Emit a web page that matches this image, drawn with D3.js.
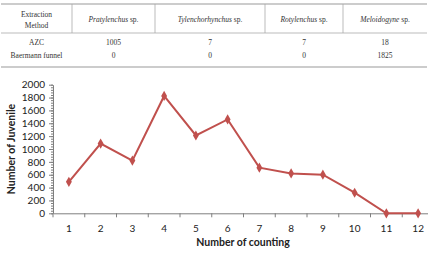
<!DOCTYPE html>
<html>
<head>
<meta charset="utf-8">
<script src="https://cdn.jsdelivr.net/npm/d3@7"></script>
<style>
  body { margin: 0; background: #fff; }
  svg { display: block; }
</style>
</head>
<body>
<div id="chart"></div>
<script>
// table data
const tableHeader = ["Pratylenchus", "Tylenchorhynchus", "Rotylenchus", "Meloidogyne"];
const tableRows = ["AZC", "Baermann funnel"];
const azcValues = [1005, 7, 7, 18];
const baermannValues = [0, 0, 0, 1825];

// line chart data
const counting = ["1", "2", "3", "4", "5", "6", "7", "8", "9", "10", "11", "12"];
const juveniles = [490, 1085, 820, 1825, 1210, 1460, 710, 620, 600, 320, 0, 0];
const yTicks = [0, 200, 400, 600, 800, 1000, 1200, 1400, 1600, 1800, 2000];

const width = 428, height = 253;

const svg = d3.select("#chart").append("svg")
    .attr("width", width)
    .attr("height", height);

// ---- table ----
const tbl = svg.append("g").style("font-family", "'Liberation Serif', serif")
    .attr("font-size", 7.5).attr("fill", "#333");

const colEdges = [1, 72, 155, 265, 343, 427];
const colCenter = d3.range(5).map(i => (colEdges[i] + colEdges[i + 1]) / 2);

tbl.append("line").attr("x1", 1).attr("x2", 427).attr("y1", 4).attr("y2", 4)
    .attr("stroke", "#999").attr("stroke-width", 1.2);
tbl.append("line").attr("x1", 1).attr("x2", 427).attr("y1", 33).attr("y2", 33)
    .attr("stroke", "#aaa").attr("stroke-width", 0.8);
tbl.append("line").attr("x1", 1).attr("x2", 427).attr("y1", 67).attr("y2", 67)
    .attr("stroke", "#999").attr("stroke-width", 1.2);
tbl.selectAll("line.sep")
    .data(colEdges.slice(1, 5))
    .join("line")
    .attr("class", "sep")
    .attr("x1", d => d).attr("x2", d => d)
    .attr("y1", 4).attr("y2", 33)
    .attr("stroke", "#aaa").attr("stroke-width", 0.8);

tbl.append("text").attr("x", colCenter[0]).attr("y", 17).attr("text-anchor", "middle").text("Extraction");
tbl.append("text").attr("x", colCenter[0]).attr("y", 28).attr("text-anchor", "middle").text("Method");

tableHeader.forEach((name, i) => {
    const t = tbl.append("text").attr("x", colCenter[i + 1]).attr("y", 22).attr("text-anchor", "middle");
    t.append("tspan").attr("font-style", "italic").text(name);
    t.append("tspan").text(" sp.");
});

[azcValues, baermannValues].forEach((vals, r) => {
    const y = r === 0 ? 45 : 58;
    tbl.append("text").attr("x", colCenter[0]).attr("y", y).attr("text-anchor", "middle").text(tableRows[r]);
    vals.forEach((v, i) => {
        tbl.append("text").attr("x", colCenter[i + 1]).attr("y", y).attr("text-anchor", "middle").text(v);
    });
});

// ---- line chart ----
const x = d3.scaleBand().domain(counting).range([53, 434]);
const y = d3.scaleLinear().domain([0, 2000]).range([213.3, 84.7]);

const axisColor = "#7f7f7f";
const sans = "Lato, 'Open Sans', sans-serif";
const chart = svg.append("g").style("font-family", sans);

// minor ticks
chart.append("g")
    .attr("transform", "translate(53,0)")
    .call(d3.axisLeft(y).tickValues(d3.range(0, 2001, 40)).tickSize(2).tickFormat(""))
    .call(g => g.select(".domain").remove())
    .call(g => g.selectAll("line").attr("stroke", axisColor));

const yAxis = chart.append("g")
    .attr("transform", "translate(53,0)")
    .call(d3.axisLeft(y).tickValues(yTicks).tickFormat(d3.format("d")).tickSize(4).tickPadding(4).tickSizeOuter(0));
yAxis.select(".domain").attr("stroke", axisColor);
yAxis.selectAll("line").attr("stroke", axisColor);
yAxis.selectAll("text").attr("font-size", 10).attr("fill", "#222").style("font-family", sans);

const xAxis = chart.append("g")
    .attr("transform", `translate(0,${y(0)})`)
    .call(d3.axisBottom(x).tickSize(0).tickPadding(12).tickSizeOuter(0));
xAxis.select(".domain").attr("stroke", axisColor);
xAxis.selectAll("text").attr("font-size", 10).attr("fill", "#222").style("font-family", sans);

chart.append("g")
    .selectAll("line")
    .data(counting)
    .join("line")
    .attr("x1", d => x(d)).attr("x2", d => x(d))
    .attr("y1", y(0)).attr("y2", y(0) + 4)
    .attr("stroke", axisColor);

chart.append("text")
    .attr("x", 243).attr("y", 246)
    .attr("text-anchor", "middle")
    .attr("font-size", 10.5).attr("font-weight", "bold").attr("fill", "#222")
    .text("Number of counting");

chart.append("text")
    .attr("transform", "translate(15,149) rotate(-90)")
    .attr("text-anchor", "middle")
    .attr("font-size", 10.5).attr("font-weight", "bold").attr("fill", "#222")
    .text("Number of Juvenile");

const pts = counting.map((c, i) => ({ c, v: juveniles[i] }));
const line = d3.line()
    .x(d => x(d.c) + x.bandwidth() / 2)
    .y(d => y(d.v));

chart.append("path")
    .datum(pts)
    .attr("d", line)
    .attr("fill", "none")
    .attr("stroke", "#c0504d")
    .attr("stroke-width", 2);

chart.append("g")
    .selectAll("path")
    .data(pts)
    .join("path")
    .attr("transform", d => `translate(${x(d.c) + x.bandwidth() / 2},${y(d.v)})`)
    .attr("d", d3.symbol(d3.symbolDiamond, 30))
    .attr("fill", "#c0504d");
</script>
</body>
</html>
